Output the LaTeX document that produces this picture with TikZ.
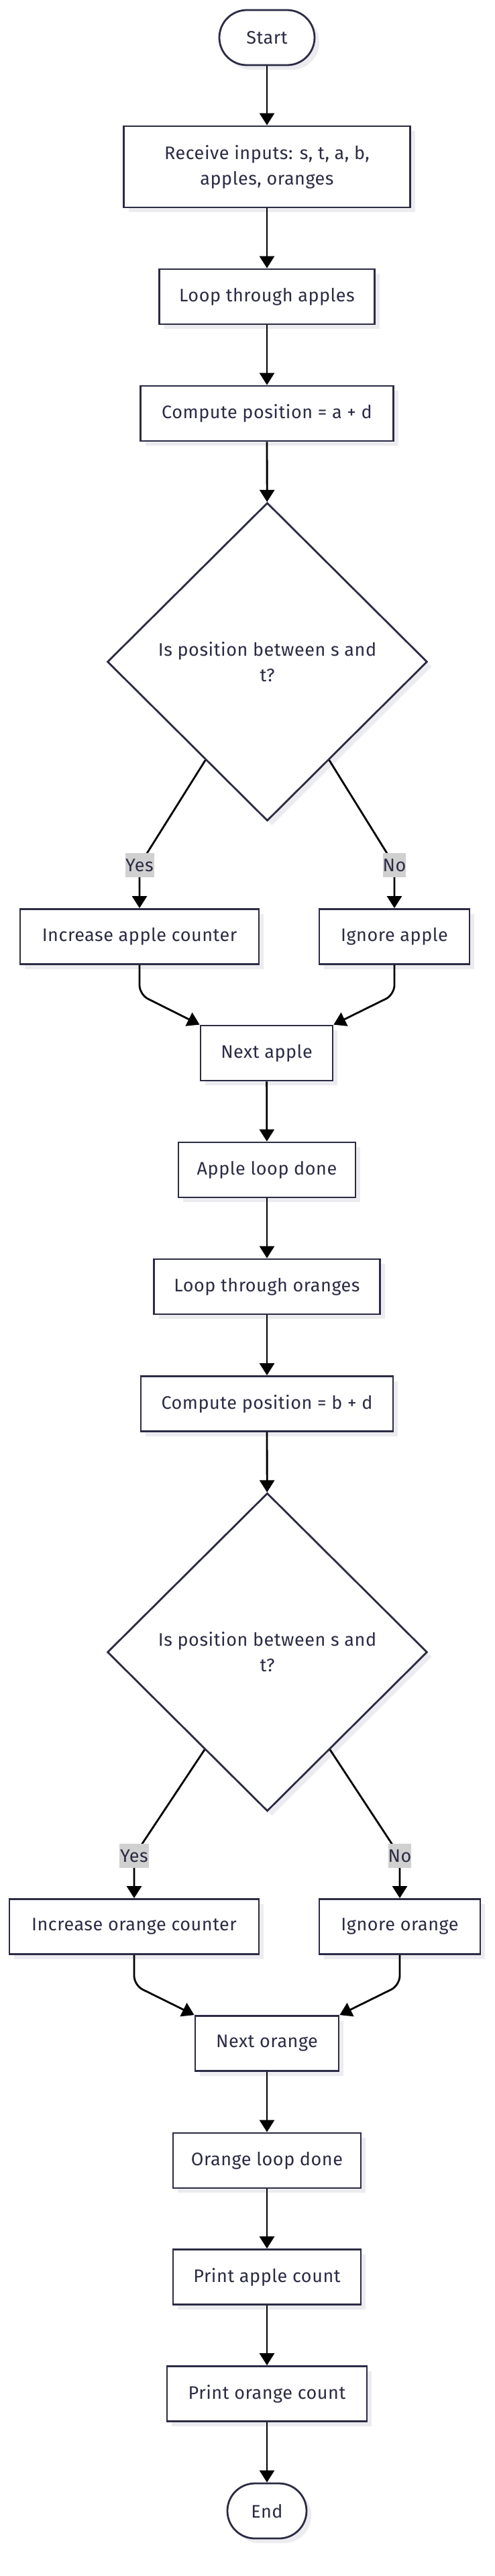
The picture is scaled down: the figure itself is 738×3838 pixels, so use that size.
\documentclass[tikz,border=0pt]{standalone}
\usepackage{fontspec}
\setmainfont{Fira Sans}[LetterSpace=2]
\usetikzlibrary{arrows.meta,shapes.geometric,shadows,calc}
\definecolor{ink}{HTML}{2B2B45}
\definecolor{txt}{HTML}{2B2B45}
\definecolor{shade}{HTML}{ECECF0}
\definecolor{lbl}{HTML}{D0D0D0}
\tikzset{
  box/.style={draw=ink, line width=1.4pt, fill=white, text=txt, minimum height=41pt,
    inner sep=0pt, align=center, font=\fontsize{13.5}{19}\selectfont,
    drop shadow={shadow xshift=3.5pt, shadow yshift=-3.5pt, fill=shade, opacity=1}},
  term/.style={box, rounded corners=20.5pt},
  decision/.style={box, diamond, aspect=1, minimum width=238.5pt, minimum height=237pt},
  lab/.style={fill=lbl, text=txt, inner sep=0pt, minimum height=18pt,
    font=\fontsize{13.5}{19}\selectfont},
  arr/.style={-{Triangle[length=9pt,width=11pt]}, line width=1.4pt, draw=black},
}
\begin{document}
\begin{tikzpicture}[x=0.5pt, y=-0.5pt]
\fill[white] (0,0) rectangle (738,3838);
\useasboundingbox (0,0) rectangle (738,3838);

% nodes
\node[term, minimum width=71pt] (start) at (398,56) {Start};
\node[box, minimum width=213.5pt, minimum height=60.5pt] (recv) at (398,248.5) {Receive inputs: s, t, a, b,\\apples, oranges};
\node[box, minimum width=160.5pt] (loopa) at (398,442) {Loop through apples};
\node[box, minimum width=188.5pt] (compa) at (398,616) {Compute position = a + d};
\node[decision] (d1) at (398.5,986) {Is position between s and\\t?};
\node[box, minimum width=178pt] (inc1) at (208,1395.5) {Increase apple counter};
\node[box, minimum width=112pt] (ign1) at (588,1395.5) {Ignore apple};
\node[box, minimum width=98.5pt] (next1) at (397.5,1569) {Next apple};
\node[box, minimum width=132pt] (donea) at (398,1743) {Apple loop done};
\node[box, minimum width=168.5pt] (loopo) at (398,1917) {Loop through oranges};
\node[box, minimum width=188pt] (compb) at (398,2091.5) {Compute position = b + d};
\node[decision] (d2) at (398.5,2461.5) {Is position between s and\\t?};
\node[box, minimum width=186pt] (inc2) at (200,2870.5) {Increase orange counter};
\node[box, minimum width=120pt] (ign2) at (596,2870.5) {Ignore orange};
\node[box, minimum width=107pt] (next2) at (398,3044.5) {Next orange};
\node[box, minimum width=140pt] (doneo) at (398,3219) {Orange loop done};
\node[box, minimum width=140pt] (printa) at (398,3392.5) {Print apple count};
\node[box, minimum width=149pt] (printo) at (398,3566.5) {Print orange count};
\node[term, minimum width=59pt] (end) at (398,3741) {End};

% label positions
\coordinate (y1c) at (208,1289);
\coordinate (n1c) at (588,1289);
\coordinate (y2c) at (200,2765);
\coordinate (n2c) at (596,2765);

% straight connectors
\draw[arr] (start) -- (recv);
\draw[arr] (recv) -- (loopa);
\draw[arr] (loopa) -- (compa);
\draw[arr] (compa) -- (d1);
\draw[arr] (next1) -- (donea);
\draw[arr] (donea) -- (loopo);
\draw[arr] (loopo) -- (compb);
\draw[arr] (compb) -- (d2);
\draw[arr] (next2) -- (doneo);
\draw[arr] (doneo) -- (printa);
\draw[arr] (printa) -- (printo);
\draw[arr] (printo) -- (end);

% decision branches
\draw[arr] ($(d1.south)!0.385!(d1.west)$) -- (y1c) -- (inc1.north);
\draw[arr] ($(d1.south)!0.385!(d1.east)$) -- (n1c) -- (ign1.north);
\draw[arr] ($(d2.south)!0.39!(d2.west)$) -- (y2c) -- (inc2.north);
\draw[arr] ($(d2.south)!0.39!(d2.east)$) -- (n2c) -- (ign2.north);

% merges
\draw[arr, rounded corners=7pt] (inc1.south) -- ++(0,44) -- (next1.north west);
\draw[arr, rounded corners=7pt] (ign1.south) -- ++(0,44) -- (next1.north east);
\draw[arr, rounded corners=7pt] (inc2.south) -- ++(0,45) -- (next2.north west);
\draw[arr, rounded corners=7pt] (ign2.south) -- ++(0,45) -- (next2.north east);

% labels
\node[lab, minimum width=21.5pt] (y1) at (y1c) {Yes};
\node[lab, minimum width=16.5pt] (n1) at (n1c) {No};
\node[lab, minimum width=22pt] (y2) at (y2c) {Yes};
\node[lab, minimum width=16.5pt] (n2) at (n2c) {No};
\end{tikzpicture}
\end{document}
